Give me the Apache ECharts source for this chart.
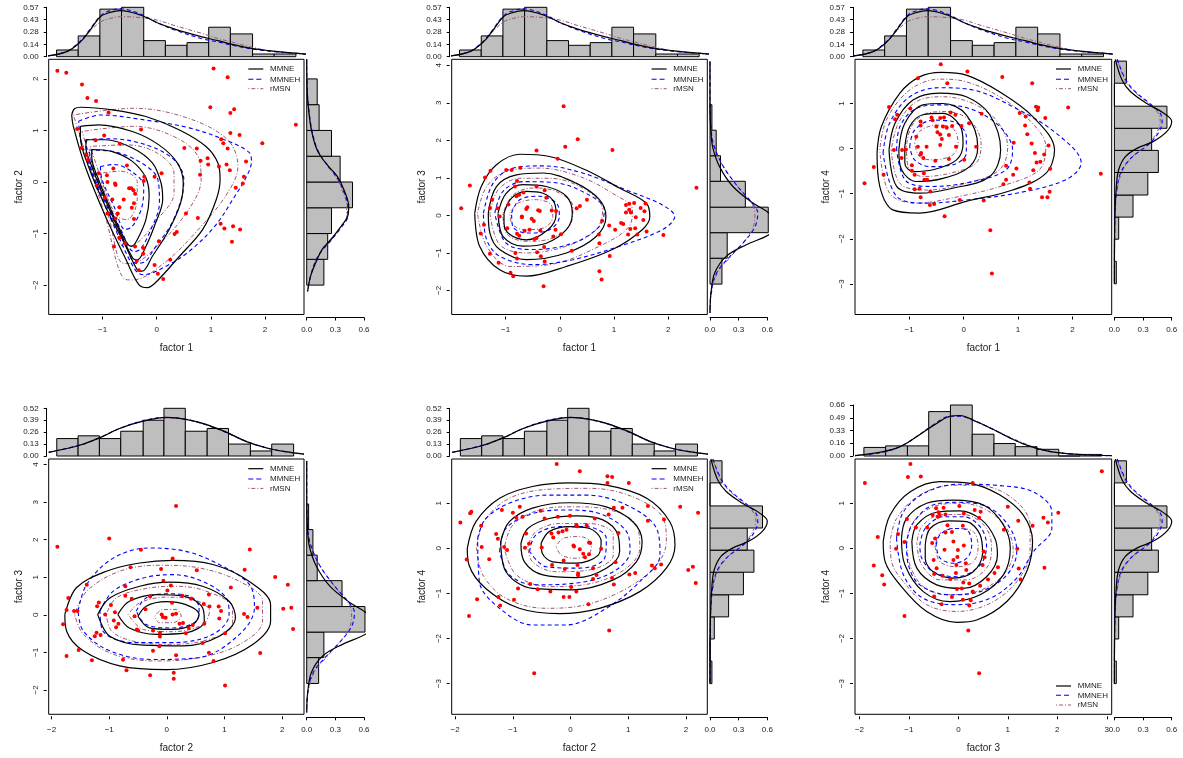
<!DOCTYPE html>
<html>
<head>
<meta charset="utf-8">
<title>factor pairs: MMNE / MMNEH / rMSN</title>
<script src="https://cdn.jsdelivr.net/npm/echarts@6/dist/echarts.min.js"></script>
<style>
  html, body { margin: 0; padding: 0; background: #fff; }
  #main { width: 1183px; height: 758px; }
</style>
</head>
<body>
<div id="main"></div>
<script>
// ---------- data ----------
const modelNames = ["MMNE", "MMNEH", "rMSN"];

// axis ranges / ticks
const f1Range = [-1.995, 2.72];
const p1YRange = [-2.57, 2.38];
const p2YRange = [-2.64, 4.16];
const p3YRange = [-3.68, 1.98];
const p4XRange = [-2.05, 2.38];
const p4YRange = [-2.65, 4.15];
const p5XRange = [-2.06, 2.37];
const p6XRange = [-2.09, 3.10];
const f4YRange = [-3.68, 1.98];

const f1Ticks = [-1, 0, 1, 2];
const f2Ticks = [-2, -1, 0, 1, 2];
const f3YTicks = [-2, -1, 0, 1, 2, 3, 4];
const f4Ticks = [-3, -2, -1, 0, 1];
const f3XTicks = [-2, -1, 0, 1, 2, 3];

const topTicksF1 = [0, 0.142, 0.284, 0.426, 0.568];
const topLabelsF1 = ["0.00", "0.14", "0.28", "0.43", "0.57"];
const topTicksF2 = [0, 0.13, 0.26, 0.39, 0.52];
const topLabelsF2 = ["0.00", "0.13", "0.26", "0.39", "0.52"];
const topTicksF3 = [0, 0.16375, 0.3275, 0.49125, 0.655];
const topLabelsF3 = ["0.00", "0.16", "0.33", "0.49", "0.66"];
const sideTicks = [0, 0.3, 0.6];
const sideLabels = ["0.0", "0.3", "0.6"];

// histograms (breaks + densities)
const f1TopBreaks = [-1.85, -1.45, -1.05, -0.65, -0.24, 0.16, 0.56, 0.96, 1.36, 1.77, 2.17, 2.57];
const f1TopDens = [0.077, 0.239, 0.547, 0.568, 0.185, 0.131, 0.162, 0.339, 0.262, 0.031, 0.031];
const f2TopBreaks = [-1.91, -1.54, -1.17, -0.80, -0.41, -0.05, 0.32, 0.70, 1.07, 1.45, 1.82, 2.20];
const f2TopDens = [0.19, 0.22, 0.19, 0.27, 0.39, 0.52, 0.27, 0.30, 0.13, 0.055, 0.13];
const f3TopBreaks = [-1.91, -1.47, -1.03, -0.60, -0.16, 0.28, 0.72, 1.15, 1.59, 2.03, 2.46, 2.90];
const f3TopDens = [0.11, 0.13, 0.13, 0.57, 0.655, 0.28, 0.16, 0.12, 0.086, 0, 0.02];

const f2SideBreaks = [-2, -1.5, -1, -0.5, 0, 0.5, 1, 1.5, 2];
const f2SideDens = [0.18, 0.22, 0.26, 0.48, 0.35, 0.26, 0.13, 0.11];
const f3SideBreaks = [-1.83, -1.14, -0.46, 0.22, 0.91, 1.59, 2.27, 2.95];
const f3SideDens = [0.125, 0.18, 0.61, 0.37, 0.11, 0.065, 0.02];
const f4SideBreaks = [-3.0, -2.5, -2.01, -1.52, -1.03, -0.53, -0.04, 0.45, 0.94, 1.45, 1.94];
const f4SideDens = [0.02, 0, 0.045, 0.195, 0.35, 0.46, 0.39, 0.55, 0, 0.126];

// fitted marginal densities
const f1TopGrid = [-2.03, -1.66, -1.41, -1.25, -1.04, -0.86, -0.67, -0.30, 0.01, 0.32, 0.82, 1.13, 1.44, 1.75, 2.06, 2.43, 2.77];
const f1TopMMNE = [0.008, 0.058, 0.17, 0.29, 0.46, 0.51, 0.53, 0.48, 0.39, 0.32, 0.23, 0.185, 0.135, 0.096, 0.07, 0.046, 0.03];
const f1TopMMNEH = [0.008, 0.06, 0.18, 0.30, 0.47, 0.53, 0.55, 0.49, 0.39, 0.31, 0.21, 0.17, 0.125, 0.09, 0.065, 0.045, 0.03];
const f1TopRMSN = [0.008, 0.06, 0.17, 0.28, 0.40, 0.44, 0.46, 0.45, 0.42, 0.36, 0.27, 0.21, 0.16, 0.11, 0.07, 0.04, 0.025];

const f2TopGrid = [-2.05, -1.5, -1.16, -0.82, -0.41, 0.0, 0.33, 0.68, 1.03, 1.37, 1.72, 2.06, 2.38];
const f2TopMMNE = [0.04, 0.12, 0.20, 0.30, 0.38, 0.42, 0.40, 0.345, 0.26, 0.16, 0.09, 0.047, 0.02];
const f2TopMMNEH = [0.04, 0.12, 0.20, 0.30, 0.385, 0.42, 0.40, 0.34, 0.255, 0.16, 0.09, 0.047, 0.02];
const f2TopRMSN = [0.04, 0.12, 0.205, 0.30, 0.38, 0.415, 0.40, 0.345, 0.26, 0.165, 0.09, 0.045, 0.02];

const f3TopGrid = [-2.09, -1.52, -1.18, -0.84, -0.51, -0.17, 0.03, 0.37, 0.71, 1.05, 1.38, 1.79, 2.19, 2.66, 3.1];
const f3TopMMNE = [0.004, 0.056, 0.12, 0.25, 0.39, 0.51, 0.52, 0.44, 0.34, 0.23, 0.14, 0.065, 0.03, 0.013, 0.004];
const f3TopMMNEH = [0.004, 0.05, 0.12, 0.25, 0.40, 0.51, 0.51, 0.44, 0.34, 0.23, 0.14, 0.066, 0.03, 0.013, 0.004];
const f3TopRMSN = [0.004, 0.05, 0.12, 0.25, 0.39, 0.50, 0.51, 0.44, 0.34, 0.24, 0.15, 0.07, 0.03, 0.012, 0.004];

const f2SideGrid = [2.38, 1.8, 1.4, 1.0, 0.69, 0.5, 0.3, 0.11, -0.15, -0.47, -0.66, -0.86, -1.12, -1.31, -1.5, -1.83, -2.12];
const f2SideMMNE = [0.0, 0.004, 0.02, 0.05, 0.094, 0.146, 0.23, 0.32, 0.39, 0.44, 0.43, 0.36, 0.25, 0.16, 0.11, 0.04, 0.01];
const f2SideMMNEH = [0.0, 0.005, 0.022, 0.055, 0.10, 0.15, 0.23, 0.31, 0.38, 0.43, 0.43, 0.37, 0.26, 0.17, 0.10, 0.04, 0.008];
const f2SideRMSN = [0.0, 0.005, 0.02, 0.05, 0.095, 0.15, 0.22, 0.30, 0.37, 0.42, 0.42, 0.36, 0.26, 0.17, 0.10, 0.04, 0.01];

const f3SideGrid = [4.1, 3.0, 2.2, 1.8, 1.3, 0.77, 0.33, 0.06, -0.25, -0.51, -0.78, -1.09, -1.53, -2.07, -2.6];
const f3SideMMNE = [0.0, 0.0, 0.01, 0.03, 0.10, 0.24, 0.45, 0.62, 0.72, 0.62, 0.38, 0.17, 0.05, 0.01, 0.0];
const f3SideMMNEH = [0.0, 0.0, 0.015, 0.05, 0.14, 0.29, 0.44, 0.50, 0.48, 0.42, 0.33, 0.21, 0.07, 0.01, 0.0];
const f3SideRMSN = [0.0, 0.0, 0.012, 0.045, 0.14, 0.29, 0.43, 0.47, 0.46, 0.41, 0.33, 0.22, 0.08, 0.015, 0.0];

const f4SideGrid = [1.98, 1.52, 1.26, 1.00, 0.78, 0.60, 0.38, 0.16, 0.01, -0.18, -0.47, -0.84, -1.5, -3.0];
const f4SideMMNE = [0.01, 0.08, 0.17, 0.34, 0.52, 0.60, 0.55, 0.41, 0.24, 0.115, 0.045, 0.02, 0.005, 0.0];
const f4SideMMNEH = [0.03, 0.12, 0.22, 0.37, 0.48, 0.50, 0.47, 0.39, 0.31, 0.19, 0.08, 0.03, 0.005, 0.0];
const f4SideRMSN = [0.03, 0.11, 0.21, 0.36, 0.46, 0.48, 0.45, 0.38, 0.30, 0.19, 0.09, 0.035, 0.007, 0.0];

// observations (one list per pair of factors)
const p1Points = [[-1.835,2.16],[-1.67,2.12],[1.05,2.20],[1.31,2.03],[-1.38,1.89],[-1.28,1.63],[-1.12,1.57],[0.99,1.45],[1.43,1.41],[1.36,1.34],[2.57,1.11],[-0.89,1.35],[-1.47,1.03],[-0.29,1.02],[-0.97,0.90],[1.36,0.95],[1.53,0.91],[1.19,0.83],[1.23,0.75],[1.95,0.75],[1.31,0.65],[0.51,0.66],[0.74,0.65],[-1.13,0.81],[-0.68,0.74],[-1.30,0.53],[-1.39,0.66],[-1.27,0.43],[0.81,0.41],[0.94,0.46],[0.95,0.34],[1.65,0.40],[1.29,0.34],[1.35,0.23],[1.15,0.30],[0.80,0.14],[-0.55,0.32],[-1.07,0.17],[-0.80,0.26],[-0.23,0.10],[-0.04,0.10],[0.09,0.17],[1.61,0.10],[1.59,-0.03],[1.46,-0.11],[-0.24,0.02],[-0.92,0.13],[-0.91,0.0],[-0.77,-0.03],[-0.76,-0.06],[-1.11,-0.07],[-0.51,-0.12],[-0.47,-0.12],[-0.43,-0.16],[-0.40,-0.23],[-0.96,-0.30],[-0.82,-0.34],[-0.61,-0.34],[-0.42,-0.41],[-0.69,-0.49],[-0.46,-0.50],[-0.91,-0.61],[-0.72,-0.61],[0.54,-0.61],[-0.76,-0.71],[-0.42,-0.72],[0.76,-0.70],[1.18,-0.81],[1.25,-0.90],[1.41,-0.86],[1.54,-0.92],[0.33,-1.01],[0.37,-0.97],[1.39,-1.16],[-0.69,-1.08],[-0.79,-1.25],[-0.59,-1.19],[-0.40,-1.25],[0.04,-1.15],[-0.25,-1.28],[-0.25,-1.39],[-0.37,-1.53],[0.25,-1.51],[-0.04,-1.61],[-0.33,-1.71],[0.02,-1.78],[0.12,-1.88]];
const p2Points = [[0.07,2.91],[0.33,2.03],[0.10,1.83],[0.97,1.74],[-0.43,1.73],[-0.04,1.51],[-1.82,0.19],[-1.66,0.80],[-1.38,1.01],[-1.28,1.19],[-0.99,1.21],[-0.89,1.21],[-0.73,1.27],[-0.79,0.92],[-0.83,0.77],[-0.67,0.61],[-0.75,0.55],[-0.80,0.51],[-0.43,0.77],[-0.28,0.67],[-0.25,0.47],[-1.25,0.42],[-1.29,0.20],[-1.15,0.19],[-0.95,0.29],[-1.11,-0.03],[-1.40,-0.25],[-1.46,-0.48],[-0.97,-0.34],[-0.79,-0.49],[-0.60,0.22],[-0.62,0.17],[-0.70,-0.03],[-0.70,-0.05],[-0.52,-0.09],[-0.48,-0.15],[-0.40,0.14],[-0.37,0.12],[-0.15,0.13],[-0.07,0.12],[-0.08,-0.38],[-0.12,-0.56],[0.02,-0.50],[-0.56,-0.38],[-0.36,-0.40],[-0.43,-0.60],[-0.47,-0.63],[-0.65,-0.41],[-0.75,-0.54],[-0.29,-0.84],[-0.35,-1.09],[-0.42,-0.98],[-0.28,-1.23],[-0.82,-1.00],[-0.79,-1.15],[-1.29,-1.02],[-1.13,-1.26],[-0.91,-1.53],[-0.86,-1.62],[-0.30,-1.89],[0.22,-0.94],[0.37,0.25],[0.50,0.42],[0.31,0.19],[0.72,-0.51],[0.78,-0.14],[0.91,-0.27],[1.02,-0.38],[0.92,-1.08],[0.73,-0.74],[0.73,-1.49],[0.77,-1.71],[1.13,-0.20],[1.17,-0.23],[1.22,0.28],[1.28,0.31],[1.28,0.15],[1.31,0.08],[1.37,0.33],[1.22,0.08],[1.26,-0.51],[1.30,-0.36],[1.40,-0.05],[1.39,-0.34],[1.49,0.20],[1.54,-0.12],[1.58,0.32],[1.56,0.11],[1.43,-0.51],[1.60,-0.43],[1.91,-0.52],[2.52,0.74]];
const p3Points = [[-0.42,1.87],[0.07,1.71],[0.71,1.59],[-0.84,1.56],[-0.30,1.45],[1.26,1.45],[-1.37,0.92],[1.33,0.93],[1.37,0.91],[1.36,0.85],[1.92,0.91],[-0.98,0.89],[-1.22,0.75],[-1.26,0.65],[-0.59,0.69],[-0.57,0.63],[-0.24,0.80],[-0.15,0.75],[0.33,0.77],[1.03,0.79],[1.14,0.71],[1.50,0.68],[-0.43,0.68],[-0.36,0.69],[-0.50,0.49],[-0.38,0.49],[-0.31,0.46],[-0.21,0.50],[-0.04,0.50],[0.10,0.56],[-0.79,0.60],[-0.79,0.51],[-0.48,0.36],[-0.43,0.31],[-0.40,0.21],[-0.43,0.08],[-0.27,0.30],[1.13,0.51],[1.17,0.32],[-0.87,0.26],[-0.84,0.04],[-0.68,0.04],[-0.78,-0.10],[-0.79,-0.13],[-0.74,-0.21],[-1.28,-0.03],[-1.13,-0.03],[-1.06,-0.02],[-1.14,-0.21],[-0.95,-0.37],[0.92,0.13],[1.25,0.11],[1.31,-0.10],[1.48,-0.13],[1.56,0.07],[1.59,-0.45],[1.41,-0.29],[1.34,-0.31],[1.28,-0.48],[0.97,-0.44],[0.91,-0.58],[0.78,-0.38],[0.78,-0.69],[0.73,-0.79],[0.23,0.04],[0.01,-0.25],[-0.14,0.04],[-0.27,-0.23],[-0.52,-0.27],[-1.65,-0.41],[-1.82,-0.77],[-1.47,-0.58],[-0.95,-0.49],[-0.90,-0.58],[-0.73,-0.55],[-0.72,-0.69],[-0.67,-0.69],[-0.90,-0.90],[-0.81,-0.89],[-0.79,-1.08],[-0.61,-0.95],[-0.62,-1.25],[-0.54,-1.23],[-0.35,-1.50],[-0.07,-1.14],[0.37,-1.15],[1.22,-0.89],[1.21,-0.75],[1.58,-0.96],[1.44,-1.08],[1.54,-1.08],[0.49,-1.81],[0.52,-2.77],[2.52,-0.56]];
const p4Points = [[0.16,2.90],[-1.90,1.81],[-1.00,2.03],[-0.45,1.73],[1.44,1.74],[0.10,1.50],[-0.10,1.22],[-0.63,1.27],[0.52,1.19],[1.35,1.20],[1.88,1.01],[2.10,0.80],[2.02,0.16],[2.16,0.19],[2.19,-0.38],[-1.39,0.80],[-1.71,0.45],[-0.72,0.76],[-0.06,0.91],[0.07,0.78],[0.01,0.65],[-0.72,0.51],[-0.61,0.43],[-0.97,0.26],[-1.18,0.33],[-1.21,0.23],[-1.74,0.13],[-1.61,0.10],[-1.55,0.10],[-1.07,0.01],[-0.90,0.07],[-0.29,0.49],[0.27,0.51],[0.09,0.32],[0.42,0.43],[0.73,0.54],[0.64,0.29],[0.74,0.22],[0.90,0.22],[1.11,0.73],[0.94,0.10],[1.34,0.02],[1.40,-0.06],[1.57,0.19],[-0.09,0.01],[-0.07,-0.06],[-0.02,-0.08],[0.10,0.01],[0.16,0.03],[-0.37,0.15],[-0.56,-0.04],[-0.52,-0.39],[-0.50,-0.42],[-0.84,-0.24],[-0.92,-0.15],[-0.88,-0.33],[-1.22,-0.48],[-1.25,-0.57],[-1.15,-0.54],[-1.80,-0.25],[-1.74,-1.10],[-1.53,-0.94],[-1.30,-1.21],[-0.76,-1.20],[-0.70,-1.48],[-0.24,-0.42],[-0.12,-0.48],[-0.12,-0.58],[-0.24,-0.96],[-0.13,-0.84],[-0.29,-1.61],[0.12,-1.54],[0.12,-1.70],[0.22,-0.24],[0.28,-0.22],[0.38,-0.35],[0.45,-0.27],[0.33,-0.49],[0.16,-1.08],[0.62,-0.75],[0.65,-0.24],[0.73,-1.01],[0.81,-1.23],[0.91,-0.10],[1.01,-0.49],[1.62,-1.02],[1.01,-1.88]];
const p5Points = [[-0.24,1.87],[0.16,1.71],[0.64,1.60],[0.72,1.58],[0.64,1.45],[1.01,1.45],[-1.91,0.57],[-1.74,0.78],[-1.72,0.81],[-1.19,0.85],[-1.00,0.79],[-0.88,0.92],[-0.94,0.68],[-0.83,0.70],[-0.52,0.83],[-0.45,0.66],[-0.22,0.70],[-0.01,0.72],[0.66,0.75],[0.75,0.90],[0.90,0.90],[1.34,0.94],[1.34,0.61],[1.62,0.64],[1.90,0.92],[2.21,0.79],[-1.55,0.50],[-1.29,0.32],[-1.26,0.21],[-1.15,0.03],[-1.54,0.03],[-1.10,-0.04],[-1.41,-0.24],[-1.80,-0.25],[-0.77,0.33],[-0.72,0.10],[-0.79,0.01],[-0.50,0.02],[-0.33,0.33],[-0.30,0.24],[-0.21,0.35],[-0.14,0.38],[-0.07,0.41],[0.10,0.51],[0.11,0.49],[0.28,0.51],[0.42,0.66],[0.83,0.34],[0.32,0.13],[0.34,0.12],[0.05,0.06],[0.06,0.04],[0.16,-0.02],[0.22,-0.12],[0.25,-0.20],[0.32,-0.13],[0.53,-0.01],[-0.12,-0.27],[-0.32,-0.37],[-0.10,-0.46],[0.12,-0.37],[0.13,-0.56],[0.13,-0.60],[0.39,-0.44],[0.45,-0.59],[0.39,-0.68],[0.72,-0.66],[0.75,-0.80],[0.78,-0.31],[1.02,-0.58],[1.12,-0.55],[1.41,-0.38],[1.46,-0.44],[1.57,-0.36],[2.04,-0.48],[2.12,-0.41],[2.17,-0.77],[-0.70,-0.79],[-0.57,-0.91],[-0.91,-0.89],[-0.35,-0.96],[-0.12,-1.08],[-0.02,-1.08],[0.10,-0.96],[0.01,-0.86],[0.31,-1.24],[-0.98,-1.14],[-1.25,-1.08],[-1.22,-1.27],[-1.62,-1.13],[-1.76,-1.50],[0.67,-1.82],[-0.63,-2.77]];
const p6Points = [[-0.97,1.87],[-1.89,1.45],[-1.02,1.58],[-0.76,1.59],[0.29,1.45],[2.90,1.71],[-0.45,0.89],[-0.30,0.90],[0.02,0.94],[0.33,0.85],[0.45,0.81],[1.00,0.92],[1.72,0.68],[1.81,0.57],[2.02,0.79],[1.50,0.50],[1.21,0.61],[0.92,0.41],[-0.52,0.74],[-0.40,0.80],[-0.38,0.74],[-0.26,0.75],[0.11,0.77],[0.42,0.68],[-0.42,0.70],[-0.22,0.51],[0.09,0.50],[-0.63,0.46],[-0.86,0.46],[-1.04,0.65],[-1.22,0.32],[-1.63,0.25],[-1.09,0.14],[-1.26,-0.01],[-0.47,0.22],[-0.26,0.35],[-0.13,0.36],[-0.53,0.12],[-0.28,-0.03],[-0.01,-0.04],[-0.02,-0.19],[0.11,0.06],[-0.10,0.15],[0.51,-0.07],[0.53,-0.20],[0.15,-0.33],[0.49,-0.37],[0.80,-0.42],[0.73,-0.55],[1.19,-0.01],[1.22,-0.45],[1.74,-0.43],[1.26,-0.69],[-0.50,-0.26],[-0.44,-0.44],[-0.10,-0.26],[-0.04,-0.37],[0.16,-0.48],[-0.05,-0.55],[-0.49,-0.57],[-0.32,-0.61],[-0.16,-0.68],[0.10,-0.76],[0.22,-0.78],[0.29,-0.96],[0.07,-0.89],[-0.03,-0.90],[0.44,-0.83],[0.60,-0.69],[-1.71,-0.38],[-1.54,-0.60],[-1.50,-0.80],[-0.49,-1.07],[-0.13,-1.08],[0.09,-1.14],[0.25,-1.15],[0.22,-1.27],[-0.34,-1.24],[-1.09,-1.50],[0.20,-1.82],[0.42,-2.77]];

// fitted density contours (closed curves)
const p1MMNE = [
  [[-1.57,1.30],[-1.52,1.42],[-1.40,1.45],[-0.82,1.40],[-0.20,1.27],[0.42,1.01],[0.91,0.69],[1.13,0.37],[1.17,0.05],[1.10,-0.34],[0.85,-0.92],[0.42,-1.44],[-0.02,-1.95],[-0.17,-2.05],[-0.33,-1.99],[-0.57,-1.50],[-0.95,-0.66],[-1.32,0.30],[-1.54,1.08]],
  [[-1.41,1.08],[-1.07,1.11],[-0.45,0.98],[0.04,0.72],[0.38,0.37],[0.49,-0.02],[0.44,-0.41],[0.23,-0.92],[-0.08,-1.44],[-0.27,-1.73],[-0.36,-1.70],[-0.57,-1.25],[-0.95,-0.47],[-1.26,0.30],[-1.41,0.88]],
  [[-1.29,0.82],[-0.95,0.82],[-0.45,0.66],[-0.08,0.37],[0.08,-0.02],[0.11,-0.34],[-0.02,-0.79],[-0.20,-1.25],[-0.36,-1.51],[-0.44,-1.48],[-0.64,-1.06],[-0.95,-0.35],[-1.20,0.30],[-1.31,0.69]],
  [[-1.20,0.63],[-0.82,0.59],[-0.45,0.40],[-0.20,0.08],[-0.14,-0.28],[-0.20,-0.73],[-0.36,-1.12],[-0.46,-1.25],[-0.57,-1.15],[-0.82,-0.60],[-1.07,0.04],[-1.20,0.49]]
];
const p1MMNEH = [
  [[-1.44,1.18],[-1.04,1.30],[-0.20,1.20],[0.60,1.05],[1.30,0.80],[1.70,0.58],[1.75,0.40],[1.66,0.11],[1.44,-0.28],[1.07,-0.86],[0.57,-1.37],[0.05,-1.70],[-0.25,-1.80],[-0.40,-1.70],[-0.75,-0.95],[-1.15,0.05],[-1.40,0.80]],
  [[-1.32,0.82],[-0.86,0.84],[-0.11,0.69],[0.35,0.40],[0.50,0.05],[0.45,-0.35],[0.25,-0.85],[-0.05,-1.30],[-0.22,-1.55],[-0.38,-1.58],[-0.60,-1.15],[-0.95,-0.40],[-1.24,0.35]],
  [[-1.25,0.62],[-0.86,0.60],[-0.30,0.38],[0.02,0.05],[0.05,-0.40],[-0.12,-0.95],[-0.30,-1.30],[-0.42,-1.35],[-0.65,-0.95],[-0.95,-0.30],[-1.18,0.30]],
  [[-1.04,0.30],[-0.79,0.34],[-0.42,0.17],[-0.24,-0.08],[-0.27,-0.47],[-0.45,-0.86],[-0.58,-0.92],[-0.79,-0.47],[-1.01,0.05]]
];
const p1RMSN = [
  [[-1.54,1.30],[-0.42,1.43],[0.57,1.24],[1.31,0.82],[1.50,0.30],[1.31,-0.21],[0.82,-0.86],[0.14,-1.57],[-0.45,-1.90],[-0.60,-1.88],[-0.95,-0.67],[-1.30,0.50]],
  [[-1.38,0.98],[-0.42,1.08],[0.32,0.88],[0.76,0.50],[0.82,0.05],[0.63,-0.47],[0.07,-1.18],[-0.48,-1.58],[-0.64,-1.57],[-0.88,-0.70],[-1.13,0.14]],
  [[-1.23,0.69],[-0.55,0.72],[0.01,0.56],[0.32,0.17],[0.32,-0.21],[0.01,-0.73],[-0.42,-1.22],[-0.62,-1.25],[-0.81,-0.60],[-1.02,0.04]],
  [[-1.04,0.17],[-0.67,0.21],[-0.36,0.01],[-0.36,-0.34],[-0.55,-0.73],[-0.73,-0.66],[-0.98,-0.15]]
];
const p2MMNE = [
  [[-1.57,0.06],[-1.45,0.77],[-1.17,1.35],[-0.74,1.63],[-0.19,1.57],[0.48,1.21],[1.10,0.73],[1.59,0.33],[1.66,-0.03],[1.52,-0.38],[0.97,-0.91],[0.12,-1.36],[-0.62,-1.62],[-1.11,-1.45],[-1.48,-0.82]],
  [[-1.32,0.06],[-1.17,0.77],[-0.80,1.08],[-0.31,1.13],[0.30,0.86],[0.73,0.42],[0.85,-0.03],[0.67,-0.56],[0.12,-1.0],[-0.62,-1.18],[-1.11,-0.91],[-1.29,-0.47]],
  [[-1.14,0.06],[-0.99,0.59],[-0.68,0.82],[-0.25,0.77],[0.12,0.51],[0.23,0.06],[0.12,-0.38],[-0.25,-0.74],[-0.68,-0.82],[-1.05,-0.56]],
  [[-1.03,0.06],[-0.89,0.46],[-0.62,0.64],[-0.31,0.59],[-0.10,0.33],[-0.07,0.02],[-0.22,-0.38],[-0.62,-0.65],[-0.92,-0.51],[-1.03,-0.20]]
];
const p2MMNEH = [
  [[-1.41,0.06],[-1.23,0.86],[-0.86,1.26],[-0.31,1.32],[0.42,1.13],[1.22,0.68],[1.89,0.28],[2.12,-0.03],[1.89,-0.38],[1.10,-0.82],[0.24,-1.18],[-0.50,-1.31],[-1.11,-1.09],[-1.35,-0.65]],
  [[-1.20,0.06],[-1.05,0.64],[-0.68,0.90],[-0.13,0.88],[0.48,0.59],[0.82,0.15],[0.73,-0.29],[0.24,-0.74],[-0.50,-0.91],[-0.99,-0.74]],
  [[-0.89,0.06],[-0.74,0.42],[-0.37,0.51],[-0.04,0.28],[-0.01,-0.03],[-0.19,-0.38],[-0.62,-0.47],[-0.87,-0.29]]
];
const p2RMSN = [
  [[-1.52,0.06],[-1.35,0.77],[-0.99,1.17],[-0.37,1.26],[0.36,1.04],[0.97,0.59],[1.34,0.15],[1.28,-0.29],[0.73,-0.82],[-0.19,-1.31],[-0.92,-1.36],[-1.35,-0.82]],
  [[-1.29,0.06],[-1.14,0.68],[-0.74,0.99],[-0.19,0.99],[0.48,0.68],[0.79,0.15],[0.67,-0.38],[0.12,-0.82],[-0.62,-1.0],[-1.11,-0.78]],
  [[-1.05,0.06],[-0.86,0.55],[-0.50,0.73],[-0.07,0.64],[0.24,0.24],[0.21,-0.20],[-0.13,-0.60],[-0.62,-0.69],[-0.99,-0.47]],
  [[-0.92,0.06],[-0.77,0.33],[-0.43,0.42],[-0.16,0.28],[-0.13,-0.03],[-0.31,-0.34],[-0.68,-0.38],[-0.89,-0.20]]
];
const p3MMNE = [
  [[-1.59,-0.10],[-1.51,0.49],[-1.17,1.23],[-0.81,1.59],[-0.41,1.69],[0.05,1.63],[0.66,1.26],[1.27,0.71],[1.67,-0.03],[1.51,-0.55],[0.90,-0.92],[0.05,-1.17],[-0.81,-1.43],[-1.30,-1.36],[-1.54,-0.84]],
  [[-1.37,-0.03],[-1.26,0.56],[-0.93,1.08],[-0.44,1.23],[0.05,1.15],[0.48,0.75],[0.68,-0.03],[0.48,-0.62],[-0.20,-0.88],[-0.81,-0.99],[-1.23,-0.84]],
  [[-1.19,-0.03],[-1.08,0.56],[-0.75,0.97],[-0.38,1.0],[0.05,0.75],[0.26,0.04],[0.11,-0.40],[-0.38,-0.66],[-0.87,-0.73],[-1.14,-0.47]],
  [[-1.08,0.04],[-0.99,0.49],[-0.75,0.75],[-0.38,0.78],[-0.07,0.52],[-0.01,0.12],[-0.13,-0.25],[-0.56,-0.47],[-0.93,-0.51],[-1.08,-0.32]]
];
const p3MMNEH = [
  [[-1.48,-0.10],[-1.36,0.56],[-0.99,1.15],[-0.44,1.35],[0.17,1.30],[0.90,0.93],[1.70,0.34],[2.16,-0.32],[1.88,-0.69],[0.97,-0.99],[0.05,-1.14],[-0.68,-1.21],[-1.23,-1.06]],
  [[-1.23,-0.03],[-1.17,0.49],[-0.87,0.89],[-0.38,0.97],[0.17,0.86],[0.66,0.49],[0.90,-0.03],[0.78,-0.47],[0.17,-0.73],[-0.56,-0.84],[-1.05,-0.73]],
  [[-0.99,0.04],[-0.90,0.41],[-0.56,0.63],[-0.20,0.60],[0.05,0.27],[0.05,-0.10],[-0.20,-0.36],[-0.62,-0.40],[-0.90,-0.25]]
];
const p3RMSN = [
  [[-1.54,-0.03],[-1.42,0.63],[-0.99,1.30],[-0.44,1.54],[0.05,1.48],[0.66,1.15],[1.21,0.63],[1.51,0.04],[1.39,-0.47],[0.78,-0.80],[-0.07,-1.06],[-0.87,-1.21],[-1.36,-0.99]],
  [[-1.33,-0.03],[-1.20,0.56],[-0.87,1.04],[-0.38,1.15],[0.17,1.0],[0.60,0.63],[0.81,0.04],[0.66,-0.47],[0.05,-0.77],[-0.68,-0.92],[-1.17,-0.77]],
  [[-1.05,0.04],[-0.96,0.49],[-0.68,0.78],[-0.32,0.82],[0.11,0.63],[0.32,0.12],[0.23,-0.32],[-0.26,-0.55],[-0.75,-0.62],[-1.02,-0.40]],
  [[-0.90,0.12],[-0.81,0.38],[-0.50,0.52],[-0.20,0.45],[-0.10,0.12],[-0.20,-0.14],[-0.56,-0.25],[-0.81,-0.18]]
];
const p4MMNE = [
  [[-1.77,0.01],[-1.57,0.72],[-1.05,1.16],[-0.47,1.38],[0.10,1.45],[0.80,1.34],[1.43,0.89],[1.80,0.27],[1.80,-0.17],[1.49,-0.79],[0.80,-1.27],[-0.01,-1.46],[-0.82,-1.36],[-1.45,-0.96],[-1.74,-0.43]],
  [[-1.20,0.01],[-0.99,0.45],[-0.47,0.76],[0.05,0.87],[0.62,0.76],[1.08,0.36],[1.19,-0.08],[0.91,-0.57],[0.28,-0.83],[-0.41,-0.81],[-0.99,-0.57]],
  [[-0.85,0.01],[-0.65,0.36],[-0.18,0.54],[0.28,0.50],[0.62,0.19],[0.65,-0.17],[0.33,-0.48],[-0.18,-0.52],[-0.65,-0.35]],
  [[-0.50,-0.04],[-0.36,0.23],[-0.01,0.35],[0.33,0.27],[0.56,0.01],[0.45,-0.26],[0.10,-0.39],[-0.30,-0.35]]
];
const p4MMNEH = [
  [[-1.54,0.10],[-1.39,0.81],[-0.93,1.51],[-0.30,1.78],[0.33,1.69],[0.91,1.34],[1.43,0.81],[1.52,0.19],[1.26,-0.52],[0.56,-1.14],[-0.24,-1.19],[-0.99,-0.96],[-1.45,-0.43]],
  [[-1.16,0.10],[-0.93,0.63],[-0.41,0.98],[0.10,1.07],[0.62,0.89],[1.03,0.45],[1.08,0.01],[0.80,-0.52],[0.10,-0.74],[-0.59,-0.74],[-1.11,-0.43]],
  [[-0.53,0.10],[-0.36,0.45],[-0.01,0.56],[0.39,0.50],[0.56,0.19],[0.51,-0.17],[0.10,-0.35],[-0.36,-0.26]]
];
const p4RMSN = [
  [[-1.60,0.01],[-1.39,0.63],[-0.82,1.16],[-0.13,1.32],[0.56,1.25],[1.26,0.89],[1.66,0.36],[1.66,-0.17],[1.26,-0.79],[0.56,-1.14],[-0.18,-1.23],[-0.93,-1.05],[-1.45,-0.52]],
  [[-1.05,0.01],[-0.88,0.45],[-0.36,0.70],[0.16,0.76],[0.68,0.63],[1.14,0.19],[1.14,-0.26],[0.74,-0.65],[0.05,-0.79],[-0.59,-0.70],[-0.96,-0.43]],
  [[-0.67,0.01],[-0.47,0.32],[-0.01,0.47],[0.45,0.41],[0.74,0.10],[0.62,-0.26],[0.10,-0.45],[-0.41,-0.39]],
  [[-0.21,-0.04],[-0.07,0.14],[0.16,0.14],[0.25,-0.04],[0.10,-0.21],[-0.13,-0.21]]
];
const p5MMNE = [
  [[-1.79,0.0],[-1.64,0.59],[-1.23,1.11],[-0.66,1.37],[-0.02,1.45],[0.62,1.40],[1.32,1.11],[1.72,0.59],[1.81,0.07],[1.66,-0.44],[1.20,-0.96],[0.50,-1.33],[-0.19,-1.45],[-0.89,-1.33],[-1.47,-0.89],[-1.76,-0.37]],
  [[-1.21,0.15],[-1.06,0.59],[-0.66,0.89],[-0.02,1.01],[0.62,0.92],[1.08,0.59],[1.24,0.15],[1.14,-0.30],[0.74,-0.70],[0.04,-0.92],[-0.66,-0.89],[-1.12,-0.52]],
  [[-0.86,0.11],[-0.74,0.44],[-0.37,0.66],[0.10,0.72],[0.56,0.63],[0.82,0.30],[0.85,-0.07],[0.62,-0.44],[0.10,-0.65],[-0.48,-0.59],[-0.80,-0.30]],
  [[-0.51,0.11],[-0.37,0.37],[-0.02,0.48],[0.33,0.44],[0.53,0.15],[0.48,-0.15],[0.10,-0.33],[-0.31,-0.30],[-0.49,-0.11]]
];
const p5MMNEH = [
  [[-1.61,0.22],[-1.47,0.66],[-1.00,1.03],[-0.37,1.18],[0.27,1.18],[0.97,0.96],[1.49,0.44],[1.55,-0.15],[1.20,-0.74],[0.62,-1.33],[-0.08,-1.70],[-0.66,-1.70],[-1.23,-1.33],[-1.58,-0.74]],
  [[-1.23,-0.07],[-1.12,0.44],[-0.66,0.77],[-0.08,0.85],[0.50,0.77],[0.97,0.37],[1.03,-0.07],[0.74,-0.52],[0.10,-0.77],[-0.60,-0.81],[-1.06,-0.59]],
  [[-0.71,-0.07],[-0.60,0.30],[-0.19,0.48],[0.27,0.48],[0.62,0.22],[0.59,-0.22],[0.16,-0.44],[-0.42,-0.41]]
];
const p5RMSN = [
  [[-1.63,0.0],[-1.50,0.59],[-1.06,1.11],[-0.37,1.31],[0.33,1.33],[1.08,1.14],[1.61,0.66],[1.66,0.15],[1.49,-0.37],[0.97,-0.89],[0.27,-1.25],[-0.42,-1.33],[-1.12,-1.11],[-1.52,-0.59]],
  [[-1.15,0.0],[-1.00,0.52],[-0.54,0.85],[0.04,0.92],[0.68,0.85],[1.14,0.52],[1.20,0.0],[0.97,-0.44],[0.39,-0.77],[-0.37,-0.85],[-0.94,-0.59]],
  [[-0.74,0.04],[-0.60,0.37],[-0.19,0.55],[0.33,0.55],[0.74,0.30],[0.74,-0.15],[0.33,-0.48],[-0.25,-0.52],[-0.66,-0.30]],
  [[-0.25,0.04],[-0.13,0.22],[0.16,0.26],[0.36,0.11],[0.33,-0.11],[0.10,-0.22],[-0.16,-0.15]]
];
const p6MMNE = [
  [[-1.52,0.15],[-1.38,0.74],[-0.98,1.25],[-0.37,1.48],[0.24,1.44],[0.84,1.18],[1.31,0.74],[1.50,0.15],[1.38,-0.52],[0.98,-1.18],[0.37,-1.59],[-0.03,-1.64],[-0.64,-1.40],[-1.18,-0.81],[-1.48,-0.30]],
  [[-1.15,0.22],[-1.05,0.66],[-0.64,1.0],[-0.10,1.07],[0.51,0.96],[0.91,0.52],[1.05,0.0],[0.91,-0.59],[0.44,-1.03],[-0.17,-1.18],[-0.71,-0.96],[-1.08,-0.37]],
  [[-0.94,0.15],[-0.84,0.52],[-0.44,0.80],[0.03,0.83],[0.47,0.63],[0.74,0.22],[0.79,-0.15],[0.57,-0.63],[0.10,-0.89],[-0.44,-0.81],[-0.84,-0.44]],
  [[-0.67,0.07],[-0.57,0.44],[-0.20,0.61],[0.17,0.59],[0.44,0.30],[0.49,-0.11],[0.30,-0.52],[-0.10,-0.66],[-0.51,-0.52],[-0.67,-0.22]]
];
const p6MMNEH = [
  [[-1.25,0.22],[-1.11,0.81],[-0.64,1.25],[0.03,1.42],[0.84,1.39],[1.52,1.25],[1.89,0.81],[1.89,0.44],[1.52,-0.07],[1.18,-0.66],[0.64,-1.11],[-0.03,-1.25],[-0.71,-1.11],[-1.11,-0.59]],
  [[-1.05,0.07],[-0.94,0.52],[-0.51,0.96],[0.03,1.02],[0.64,0.89],[1.05,0.44],[1.18,-0.07],[0.98,-0.59],[0.44,-0.96],[-0.17,-1.03],[-0.78,-0.81],[-1.01,-0.37]],
  [[-0.78,0.07],[-0.67,0.44],[-0.30,0.70],[0.10,0.70],[0.44,0.48],[0.57,0.07],[0.44,-0.37],[-0.03,-0.63],[-0.51,-0.52],[-0.74,-0.22]],
  [[-0.45,0.07],[-0.37,0.30],[-0.10,0.44],[0.17,0.41],[0.27,0.07],[0.17,-0.22],[-0.10,-0.33],[-0.37,-0.22]]
];
const p6RMSN = [
  [[-1.38,0.15],[-1.25,0.66],[-0.78,1.18],[-0.10,1.40],[0.57,1.37],[1.18,1.03],[1.45,0.52],[1.45,-0.07],[1.18,-0.74],[0.64,-1.22],[-0.03,-1.40],[-0.64,-1.25],[-1.11,-0.74],[-1.35,-0.30]],
  [[-1.05,0.15],[-0.91,0.59],[-0.51,0.92],[0.03,1.0],[0.57,0.85],[0.98,0.44],[1.11,-0.07],[0.91,-0.59],[0.37,-0.96],[-0.24,-1.03],[-0.71,-0.85],[-0.98,-0.37]],
  [[-0.84,0.11],[-0.74,0.48],[-0.37,0.74],[0.10,0.75],[0.51,0.52],[0.67,0.07],[0.61,-0.37],[0.17,-0.70],[-0.37,-0.70],[-0.74,-0.37]],
  [[-0.47,0.04],[-0.37,0.33],[-0.03,0.44],[0.30,0.37],[0.40,0.04],[0.30,-0.30],[-0.03,-0.41],[-0.37,-0.30]]
];

// ---------- styling ----------
const FONT = "'Liberation Sans', Arial, Helvetica, sans-serif";
const TXT = "#222";
const modelStyles = [
  { color: "#000000", type: "solid", width: 1.2 },
  { color: "#0000ff", type: [4, 3], width: 1.1 },
  { color: "#9a5674", type: [1, 2, 4, 2], width: 1 }
];

// panel frames (pixels)
const colLeft = [48.7, 451.7, 855];
const colWidth = [255.3, 255.6, 256.7];
const rowTop = [59.3, 459];
const rowHeight = [255.2, 255.3];

const panels = [
  { col: 0, row: 0, pts: p1Points, cont: [p1MMNE, p1MMNEH, p1RMSN], xr: f1Range, yr: p1YRange, xt: f1Ticks, yt: f2Ticks, xn: "factor 1", yn: "factor 2",
    top: { b: f1TopBreaks, d: f1TopDens, g: f1TopGrid, c: [f1TopMMNE, f1TopMMNEH, f1TopRMSN], t: topTicksF1, l: topLabelsF1, y0: 7.3, y1: 56.7 },
    side: { b: f2SideBreaks, d: f2SideDens, g: f2SideGrid, c: [f2SideMMNE, f2SideMMNEH, f2SideRMSN] }, leg: "top" },
  { col: 1, row: 0, pts: p2Points, cont: [p2MMNE, p2MMNEH, p2RMSN], xr: f1Range, yr: p2YRange, xt: f1Ticks, yt: f3YTicks, xn: "factor 1", yn: "factor 3",
    top: { b: f1TopBreaks, d: f1TopDens, g: f1TopGrid, c: [f1TopMMNE, f1TopMMNEH, f1TopRMSN], t: topTicksF1, l: topLabelsF1, y0: 7.3, y1: 56.7 },
    side: { b: f3SideBreaks, d: f3SideDens, g: f3SideGrid, c: [f3SideMMNE, f3SideMMNEH, f3SideRMSN] }, leg: "top" },
  { col: 2, row: 0, pts: p3Points, cont: [p3MMNE, p3MMNEH, p3RMSN], xr: f1Range, yr: p3YRange, xt: f1Ticks, yt: f4Ticks, xn: "factor 1", yn: "factor 4",
    top: { b: f1TopBreaks, d: f1TopDens, g: f1TopGrid, c: [f1TopMMNE, f1TopMMNEH, f1TopRMSN], t: topTicksF1, l: topLabelsF1, y0: 7.3, y1: 56.7 },
    side: { b: f4SideBreaks, d: f4SideDens, g: f4SideGrid, c: [f4SideMMNE, f4SideMMNEH, f4SideRMSN] }, leg: "top" },
  { col: 0, row: 1, pts: p4Points, cont: [p4MMNE, p4MMNEH, p4RMSN], xr: p4XRange, yr: p4YRange, xt: f2Ticks, yt: f3YTicks, xn: "factor 2", yn: "factor 3",
    top: { b: f2TopBreaks, d: f2TopDens, g: f2TopGrid, c: [f2TopMMNE, f2TopMMNEH, f2TopRMSN], t: topTicksF2, l: topLabelsF2, y0: 408.3, y1: 456 },
    side: { b: f3SideBreaks, d: f3SideDens, g: f3SideGrid, c: [f3SideMMNE, f3SideMMNEH, f3SideRMSN] }, leg: "top" },
  { col: 1, row: 1, pts: p5Points, cont: [p5MMNE, p5MMNEH, p5RMSN], xr: p5XRange, yr: f4YRange, xt: f2Ticks, yt: f4Ticks, xn: "factor 2", yn: "factor 4",
    top: { b: f2TopBreaks, d: f2TopDens, g: f2TopGrid, c: [f2TopMMNE, f2TopMMNEH, f2TopRMSN], t: topTicksF2, l: topLabelsF2, y0: 408.3, y1: 456 },
    side: { b: f4SideBreaks, d: f4SideDens, g: f4SideGrid, c: [f4SideMMNE, f4SideMMNEH, f4SideRMSN] }, leg: "top" },
  { col: 2, row: 1, pts: p6Points, cont: [p6MMNE, p6MMNEH, p6RMSN], xr: p6XRange, yr: f4YRange, xt: f3XTicks, yt: f4Ticks, xn: "factor 3", yn: "factor 4",
    top: { b: f3TopBreaks, d: f3TopDens, g: f3TopGrid, c: [f3TopMMNE, f3TopMMNEH, f3TopRMSN], t: topTicksF3, l: topLabelsF3, y0: 405, y1: 456 },
    side: { b: f4SideBreaks, d: f4SideDens, g: f4SideGrid, c: [f4SideMMNE, f4SideMMNEH, f4SideRMSN] }, leg: "bottom" }
];

// ---------- build option ----------
const chart = echarts.init(document.getElementById("main"));

function signed(v) {
  return (v < 0 ? "\u2212" : "") + Math.abs(v);
}
function lookup(ticks, labels) {
  return (v) => {
    const i = ticks.findIndex((t) => Math.abs(t - v) < 1e-6);
    return i < 0 ? "" : labels[i];
  };
}
const tickStyle = { color: "#000", width: 1 };
const labelBase = { fontSize: 8, color: TXT, fontFamily: FONT };

function topBars(params, api) {
  const a = api.coord([api.value(0), 0]);
  const b = api.coord([api.value(1), api.value(2)]);
  return {
    type: "rect",
    shape: { x: a[0], y: b[1], width: b[0] - a[0], height: a[1] - b[1] },
    style: { fill: "#bebebe", stroke: "#000", lineWidth: 1 }
  };
}
function sideBars(params, api) {
  const a = api.coord([0, api.value(0)]);
  const b = api.coord([api.value(2), api.value(1)]);
  return {
    type: "rect",
    shape: { x: a[0], y: b[1], width: b[0] - a[0], height: a[1] - b[1] },
    style: { fill: "#bebebe", stroke: "#000", lineWidth: 1 }
  };
}

const grids = [], xAxes = [], yAxes = [], series = [], graphics = [];

panels.forEach((p) => {
  const left = colLeft[p.col], width = colWidth[p.col];
  const top = rowTop[p.row], height = rowHeight[p.row];
  const gMain = grids.length;

  // main scatter panel
  grids.push({ left, top, width, height, show: true, borderColor: "#000", borderWidth: 1, backgroundColor: "transparent", containLabel: false });
  xAxes.push({
    gridIndex: gMain, type: "value", min: p.xr[0], max: p.xr[1], offset: 2,
    axisLine: { show: false, onZero: false },
    axisTick: { show: true, length: 3, customValues: p.xt, lineStyle: tickStyle },
    axisLabel: Object.assign({ customValues: p.xt, formatter: signed, margin: 9 }, labelBase),
    splitLine: { show: false },
    name: p.xn, nameLocation: "middle", nameGap: 27,
    nameTextStyle: { fontSize: 10, color: TXT, fontFamily: FONT }
  });
  yAxes.push({
    gridIndex: gMain, type: "value", min: p.yr[0], max: p.yr[1], offset: 2,
    axisLine: { show: false, onZero: false },
    axisTick: { show: true, length: 3, customValues: p.yt, lineStyle: tickStyle },
    axisLabel: Object.assign({ customValues: p.yt, formatter: signed, margin: 7, rotate: 90 }, labelBase),
    splitLine: { show: false },
    name: p.yn, nameLocation: "middle", nameGap: 22,
    nameTextStyle: { fontSize: 10, color: TXT, fontFamily: FONT }
  });

  // top marginal histogram
  const gTop = grids.length;
  grids.push({ left, top: p.top.y0, width, height: p.top.y1 - p.top.y0, containLabel: false });
  xAxes.push({ gridIndex: gTop, type: "value", min: p.xr[0], max: p.xr[1], show: false });
  const tmax = p.top.t[p.top.t.length - 1];
  yAxes.push({
    gridIndex: gTop, type: "value", min: 0, max: tmax, offset: 2,
    axisLine: { show: true, onZero: false, lineStyle: tickStyle },
    axisTick: { show: true, length: 3, customValues: p.top.t, lineStyle: tickStyle },
    axisLabel: Object.assign({ customValues: p.top.t, formatter: lookup(p.top.t, p.top.l), margin: 8 }, labelBase),
    splitLine: { show: false }
  });

  // right marginal histogram
  const gSide = grids.length;
  grids.push({ left: left + width + 2.7, top, width: 57.3, height, containLabel: false });
  xAxes.push({
    gridIndex: gSide, type: "value", min: 0, max: 0.6, offset: 3, position: "bottom",
    axisLine: { show: true, onZero: false, lineStyle: tickStyle },
    axisTick: { show: true, length: 3, customValues: sideTicks, lineStyle: tickStyle },
    axisLabel: Object.assign({ customValues: sideTicks, formatter: lookup(sideTicks, sideLabels), margin: 8 }, labelBase),
    splitLine: { show: false }
  });
  yAxes.push({ gridIndex: gSide, type: "value", min: p.yr[0], max: p.yr[1], show: false });

  // histogram bars
  series.push({
    type: "custom", xAxisIndex: gTop, yAxisIndex: gTop, renderItem: topBars, silent: true, z: 1,
    encode: { x: [0, 1], y: 2 },
    data: p.top.d.map((d, k) => [p.top.b[k], p.top.b[k + 1], d])
  });
  series.push({
    type: "custom", xAxisIndex: gSide, yAxisIndex: gSide, renderItem: sideBars, silent: true, z: 1,
    encode: { x: 2, y: [0, 1] },
    data: p.side.d.map((d, k) => [p.side.b[k], p.side.b[k + 1], d])
  });

  // fitted marginal densities
  [2, 1, 0].forEach((m) => {
    series.push({
      type: "line", name: modelNames[m], xAxisIndex: gTop, yAxisIndex: gTop, smooth: 0.35, showSymbol: false,
      clip: false, silent: true, z: 3 + (2 - m), lineStyle: modelStyles[m],
      data: p.top.g.map((x, k) => [x, p.top.c[m][k]])
    });
    series.push({
      type: "line", name: modelNames[m], xAxisIndex: gSide, yAxisIndex: gSide, smooth: 0.35, showSymbol: false,
      clip: false, silent: true, z: 3 + (2 - m), lineStyle: modelStyles[m],
      data: p.side.g.map((y, k) => [p.side.c[m][k], y])
    });
  });

  // contours
  [2, 1, 0].forEach((m) => {
    p.cont[m].forEach((ring) => {
      series.push({
        type: "line", name: modelNames[m], xAxisIndex: gMain, yAxisIndex: gMain, smooth: 0.35, showSymbol: false,
        silent: true, z: 3 + (2 - m), lineStyle: modelStyles[m],
        data: ring.concat([ring[0]])
      });
    });
  });

  // observations
  series.push({
    type: "scatter", xAxisIndex: gMain, yAxisIndex: gMain, symbol: "circle", symbolSize: 4,
    itemStyle: { color: "#ff0000", opacity: 1 }, silent: true, z: 10, data: p.pts
  });

  // legend (R style, no box)
  const right = left + width;
  const rowsY = p.leg === "top"
    ? [top + 9.7, top + 20, top + 29.4]
    : [top + height - 28.3, top + height - 19, top + height - 9.3];
  modelNames.forEach((nm, m) => {
    graphics.push({
      type: "line", silent: true, z: 20,
      shape: { x1: right - 55.7, y1: rowsY[m], x2: right - 40.7, y2: rowsY[m] },
      style: { stroke: modelStyles[m].color, lineWidth: modelStyles[m].width, lineDash: m === 0 ? null : (m === 1 ? [5, 3] : [1, 2, 4, 2]) }
    });
    graphics.push({
      type: "text", silent: true, z: 20, x: right - 34, y: rowsY[m],
      style: { text: nm, fill: TXT, font: "8px " + FONT, verticalAlign: "middle", align: "left" }
    });
  });
});

chart.setOption({
  backgroundColor: "#ffffff",
  animation: false,
  textStyle: { fontFamily: FONT },
  grid: grids,
  xAxis: xAxes,
  yAxis: yAxes,
  series: series,
  graphic: graphics
});
</script>
</body>
</html>
